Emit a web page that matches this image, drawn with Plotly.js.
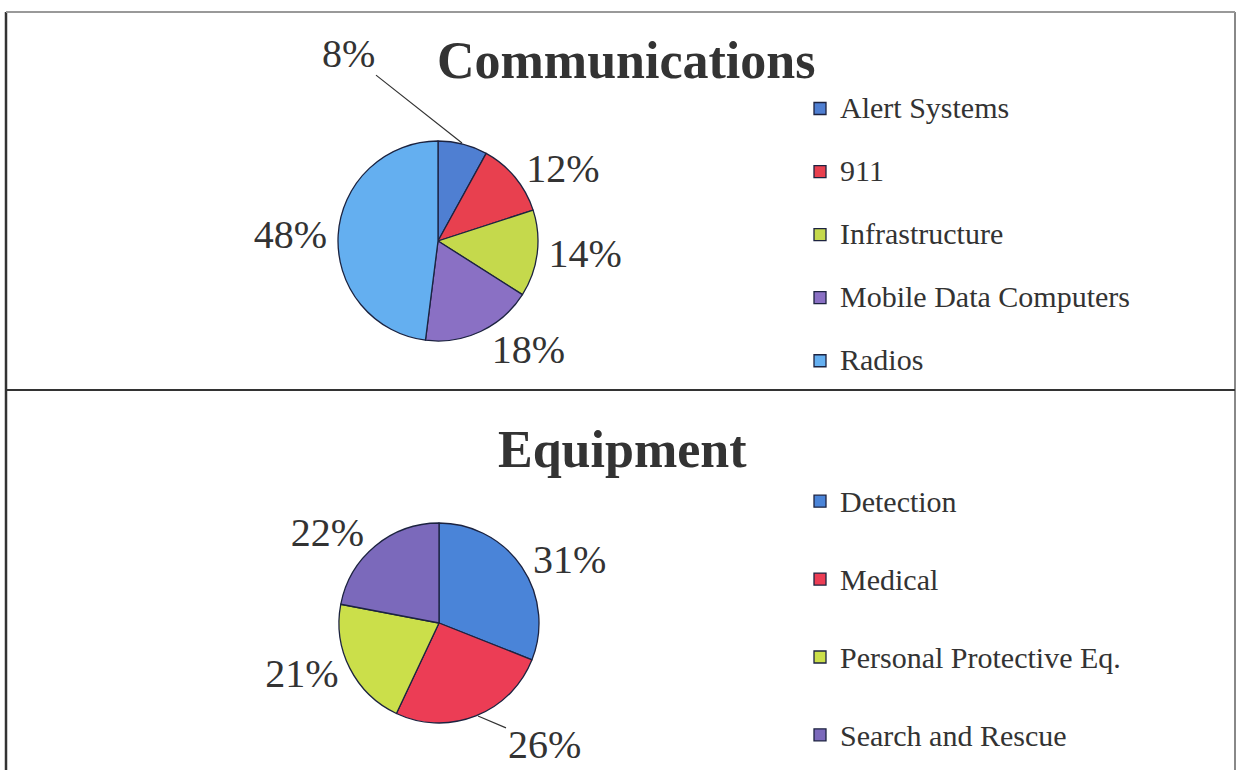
<!DOCTYPE html>
<html>
<head>
<meta charset="utf-8">
<script src="https://cdn.plot.ly/plotly-3.0.1.min.js"></script>
<style>
html,body{margin:0;padding:0;background:#fff;}
#chart{width:1237px;height:770px;}
</style>
</head>
<body>
<div id="chart"></div>
<script>
// ---- data ----
const commTitle = "Communications";
const commCategories = ["Alert Systems", "911", "Infrastructure", "Mobile Data Computers", "Radios"];
const commValues = [8, 12, 14, 18, 48];
const commColors = ["#4f7fd2", "#e8404f", "#c5d94c", "#8a70c4", "#64aff0"];

const equipTitle = "Equipment";
const equipCategories = ["Detection", "Medical", "Personal Protective Eq.", "Search and Rescue"];
const equipValues = [31, 26, 21, 22];
const equipColors = ["#4a84d8", "#ec3d55", "#cbdf4a", "#7b69bb"];

// ---- helpers ----
const W = 1237, H = 770;
const px = x => x / W;
const py = y => 1 - y / H;
const legendLabel = c => '<span style="font-size:30px">' + c + '</span><br> ';
const pct = v => v + "%";
const serif = "Liberation Serif, Times New Roman, serif";

const labelFont = {family: serif, size: 40, color: "#333"};

// slices whose labels are drawn with a leader line instead of the default outside text
const commLeader = 0;   // index of "Alert Systems"
const equipLeader = 1;  // index of "Medical"

const commTrace = {
  type: "pie",
  labels: commCategories.map(legendLabel),
  values: commValues,
  text: commValues.map(pct),
  textinfo: "text",
  textposition: commValues.map((v, i) => i === commLeader ? "none" : "outside"),
  outsidetextfont: labelFont,
  sort: false,
  direction: "clockwise",
  rotation: 0,
  marker: {colors: commColors, line: {color: "#1c2340", width: 1.3}},
  domain: {x: [px(338), px(538)], y: [py(341), py(141)]},
  legend: "legend",
  hoverinfo: "skip"
};

const equipTrace = {
  type: "pie",
  labels: equipCategories.map(legendLabel),
  values: equipValues,
  text: equipValues.map(pct),
  textinfo: "text",
  textposition: equipValues.map((v, i) => i === equipLeader ? "none" : "outside"),
  outsidetextfont: labelFont,
  sort: false,
  direction: "clockwise",
  rotation: 0,
  marker: {colors: equipColors, line: {color: "#1c2340", width: 1.3}},
  domain: {x: [px(339), px(539)], y: [py(723), py(523)]},
  legend: "legend2",
  hoverinfo: "skip"
};

const layout = {
  width: W, height: H,
  margin: {l: 0, r: 0, t: 0, b: 0, autoexpand: false},
  paper_bgcolor: "#ffffff",
  showlegend: true,
  legend: {
    x: px(800), xanchor: "left", y: py(87), yanchor: "top",
    valign: "top",
    font: {family: serif, size: 23.1, color: "#333"},
    bgcolor: "rgba(0,0,0,0)"
  },
  legend2: {
    x: px(800), xanchor: "left", y: py(476), yanchor: "top",
    valign: "top",
    font: {family: serif, size: 28.8, color: "#333"},
    bgcolor: "rgba(0,0,0,0)"
  },
  annotations: [
    {text: commTitle, x: px(626), y: py(60), xref: "paper", yref: "paper",
     xanchor: "center", yanchor: "middle", showarrow: false,
     font: {family: serif, size: 52, color: "#333", weight: "bold"}},
    {text: equipTitle, x: px(622), y: py(449), xref: "paper", yref: "paper",
     xanchor: "center", yanchor: "middle", showarrow: false,
     font: {family: serif, size: 52, color: "#333", weight: "bold"}},
    // leader-line labels
    {text: pct(commValues[commLeader]), x: px(462), y: py(143), xref: "paper", yref: "paper",
     showarrow: true, arrowhead: 0, arrowwidth: 1.2, arrowcolor: "#333",
     ax: -114, ay: -90, axref: "pixel", ayref: "pixel", standoff: 0,
     font: labelFont},
    {text: pct(equipValues[equipLeader]), x: px(478), y: py(716), xref: "paper", yref: "paper",
     showarrow: true, arrowhead: 0, arrowwidth: 1.2, arrowcolor: "#333",
     ax: 66, ay: 28, axref: "pixel", ayref: "pixel", standoff: 0,
     font: labelFont}
  ],
  shapes: [
    {type: "line", xref: "paper", yref: "paper", x0: px(6), x1: px(6), y0: 0, y1: py(12), line: {color: "#333", width: 2.5}},
    {type: "line", xref: "paper", yref: "paper", x0: px(1235), x1: px(1235), y0: 0, y1: py(12), line: {color: "#888", width: 2}},
    {type: "line", xref: "paper", yref: "paper", x0: px(6), x1: px(1235), y0: py(12), y1: py(12), line: {color: "#999", width: 2}},
    {type: "line", xref: "paper", yref: "paper", x0: px(6), x1: px(1235), y0: py(390), y1: py(390), line: {color: "#333", width: 2}}
  ]
};

Plotly.newPlot("chart", [commTrace, equipTrace], layout, {displayModeBar: false, staticPlot: true});
</script>
</body>
</html>
